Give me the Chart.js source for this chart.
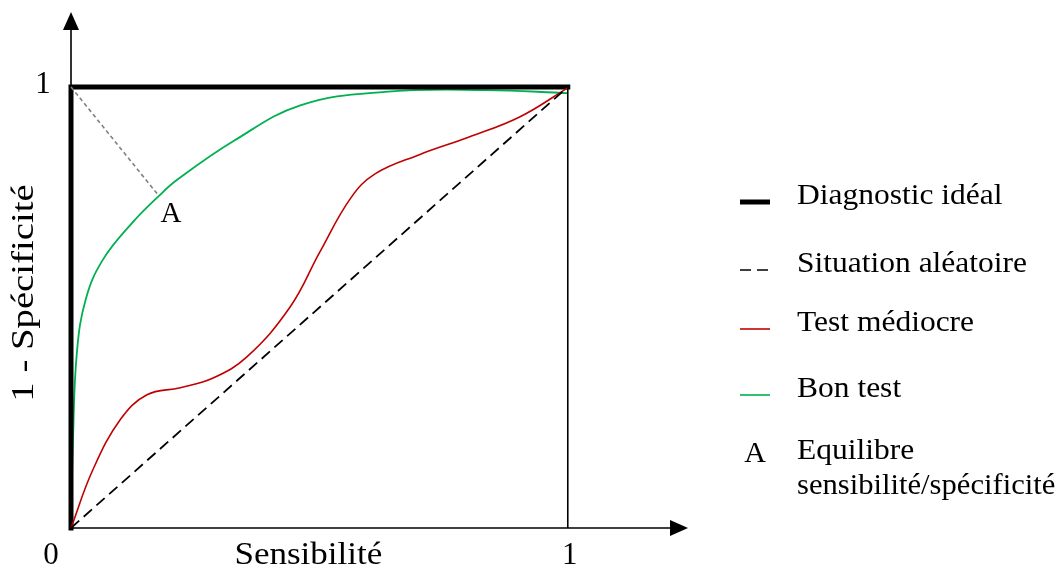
<!DOCTYPE html>
<html>
<head>
<meta charset="utf-8">
<script src="https://cdn.jsdelivr.net/npm/chart.js@4.4.1/dist/chart.umd.min.js"></script>
<style>
  html, body { margin: 0; padding: 0; background: #fff; }
  #wrap { width: 1062px; height: 571px; position: relative; }
</style>
</head>
<body>
<div id="wrap"><canvas id="roc"></canvas></div>
<script>
// values (x = sensibilité, y = 1 - spécificité)
const idealX = [0, 0, 1];
const idealY = [0, 1, 1];
const randomX = [0, 1];
const randomY = [0, 1];
const mediocreX = [0, 0.044, 0.1, 0.153, 0.22, 0.286, 0.354, 0.441, 0.501, 0.563, 0.612, 0.7, 0.8, 0.903, 1];
const mediocreY = [0, 0.132, 0.247, 0.302, 0.318, 0.34, 0.388, 0.501, 0.626, 0.748, 0.803, 0.846, 0.886, 0.932, 0.998];
const bonX = [0, 0.004, 0.012, 0.03, 0.064, 0.125, 0.177, 0.213, 0.328, 0.463, 0.632, 0.835, 1];
const bonY = [0, 0.2, 0.4, 0.52, 0.608, 0.694, 0.753, 0.789, 0.878, 0.959, 0.989, 0.993, 0.986];
const equilibreX = [0, 0.177];
const equilibreY = [1, 0.753];
const frameX = [1, 1];
const frameY = [0, 1];

const legendItems = ['Diagnostic idéal', 'Situation aléatoire', 'Test médiocre', 'Bon test'];
const legendLastLines = ['Equilibre', 'sensibilité/spécificité'];
const xTitle = 'Sensibilité';
const yTitle = '1 - Spécificité';

const pts = (xs, ys) => xs.map((x, i) => ({ x: x, y: ys[i] }));
const FONT = '"Liberation Serif", "DejaVu Serif", serif';

// text slightly widened to look closer to the LaTeX font
function wideText(ctx, txt, x, y, sx) {
  ctx.save();
  ctx.translate(x, y);
  ctx.scale(sx, 1);
  ctx.fillText(txt, 0, 0);
  ctx.restore();
}

const decor = {
  id: 'decor',
  beforeDatasetsDraw(chart) {
    const ctx = chart.ctx;
    const xs = chart.scales.x, ys = chart.scales.y;
    const x0 = xs.getPixelForValue(0), y0 = ys.getPixelForValue(0);
    const xEnd = xs.getPixelForValue(xs.max), yEnd = ys.getPixelForValue(ys.max);
    ctx.save();
    ctx.strokeStyle = '#000';
    ctx.fillStyle = '#000';
    ctx.lineWidth = 1.6;
    ctx.beginPath();
    ctx.moveTo(x0, y0); ctx.lineTo(xEnd - 14, y0);
    ctx.moveTo(x0, y0); ctx.lineTo(x0, yEnd + 14);
    ctx.stroke();
    // arrow heads
    ctx.beginPath();
    ctx.moveTo(xEnd, y0); ctx.lineTo(xEnd - 18, y0 - 8); ctx.lineTo(xEnd - 18, y0 + 8); ctx.closePath();
    ctx.fill();
    ctx.beginPath();
    ctx.moveTo(x0, yEnd); ctx.lineTo(x0 - 8, yEnd + 18); ctx.lineTo(x0 + 8, yEnd + 18); ctx.closePath();
    ctx.fill();
    ctx.restore();
  },
  afterDatasetsDraw(chart) {
    const ctx = chart.ctx;
    const xs = chart.scales.x, ys = chart.scales.y;
    const x0 = xs.getPixelForValue(0), y0 = ys.getPixelForValue(0);
    const x1 = xs.getPixelForValue(1), y1 = ys.getPixelForValue(1);
    ctx.save();
    ctx.fillStyle = '#000';
    ctx.font = '31px ' + FONT;
    ctx.textBaseline = 'middle';
    ctx.textAlign = 'center';
    ctx.fillText('0', x0 - 20, y0 + 28);
    ctx.fillText('1', x1 + 2, y0 + 28);
    wideText(ctx, xTitle, (x0 + x1) / 2 - 11, y0 + 28, 1.13);
    ctx.fillText('1', x0 - 28, y1 - 2);
    // A label
    ctx.font = '29px ' + FONT;
    const ax = xs.getPixelForValue(equilibreX[1]), ay = ys.getPixelForValue(equilibreY[1]);
    ctx.fillText('A', ax + 12, ay + 18);
    // y title
    ctx.font = '31px ' + FONT;
    ctx.save();
    ctx.translate(25, 293);
    ctx.rotate(-Math.PI / 2);
    ctx.scale(1.25, 1);
    ctx.fillText(yTitle, 0, 0);
    ctx.restore();

    // legend
    const lx = 740, lw = 30, tx = 797;
    const rows = [196, 264, 323, 389];
    const styles = [
      { c: '#000', w: 5, d: [] },
      { c: '#000', w: 1.6, d: [11, 6] },
      { c: '#c00000', w: 1.6, d: [] },
      { c: '#00b050', w: 1.6, d: [] }
    ];
    ctx.textAlign = 'left';
    ctx.font = '30px ' + FONT;
    legendItems.forEach((t, i) => {
      const s = styles[i];
      ctx.strokeStyle = s.c; ctx.lineWidth = s.w; ctx.setLineDash(s.d);
      ctx.beginPath(); ctx.moveTo(lx, rows[i] + 6); ctx.lineTo(lx + lw, rows[i] + 6); ctx.stroke();
      wideText(ctx, t, tx, rows[i], 1.05);
    });
    ctx.setLineDash([]);
    ctx.textAlign = 'center';
    ctx.fillText('A', lx + 15, 454);
    ctx.textAlign = 'left';
    wideText(ctx, legendLastLines[0], tx, 451, 1.05);
    wideText(ctx, legendLastLines[1], tx, 486, 1.02);
    ctx.restore();
  }
};

new Chart(document.getElementById('roc'), {
  type: 'line',
  data: {
    datasets: [
      { data: pts(frameX, frameY), borderColor: '#000', borderWidth: 1.6, pointRadius: 0, clip: false },
      { data: pts(randomX, randomY), borderColor: '#000', borderWidth: 1.8, borderDash: [11, 6], pointRadius: 0, clip: false },
      { data: pts(equilibreX, equilibreY), borderColor: '#808080', borderWidth: 1.6, borderDash: [4, 3], pointRadius: 0, clip: false },
      { data: pts(mediocreX, mediocreY), borderColor: '#c00000', borderWidth: 1.6, pointRadius: 0, tension: 0.4, clip: false },
      { data: pts(idealX, idealY), borderColor: '#000', borderWidth: 5, pointRadius: 0, borderCapStyle: 'square', borderJoinStyle: 'miter', clip: false },
      { data: pts(bonX, bonY), borderColor: '#00b050', borderWidth: 1.8, pointRadius: 0, tension: 0.4, clip: false }
    ]
  },
  options: {
    responsive: true,
    maintainAspectRatio: false,
    animation: false,
    layout: { padding: { left: 71, right: 374, top: 12, bottom: 43 } },
    scales: {
      x: { type: 'linear', min: 0, max: 1.242, display: false },
      y: { type: 'linear', min: 0, max: 1.17, display: false }
    },
    plugins: { legend: { display: false }, tooltip: { enabled: false } }
  },
  plugins: [decor]
});
</script>
</body>
</html>
